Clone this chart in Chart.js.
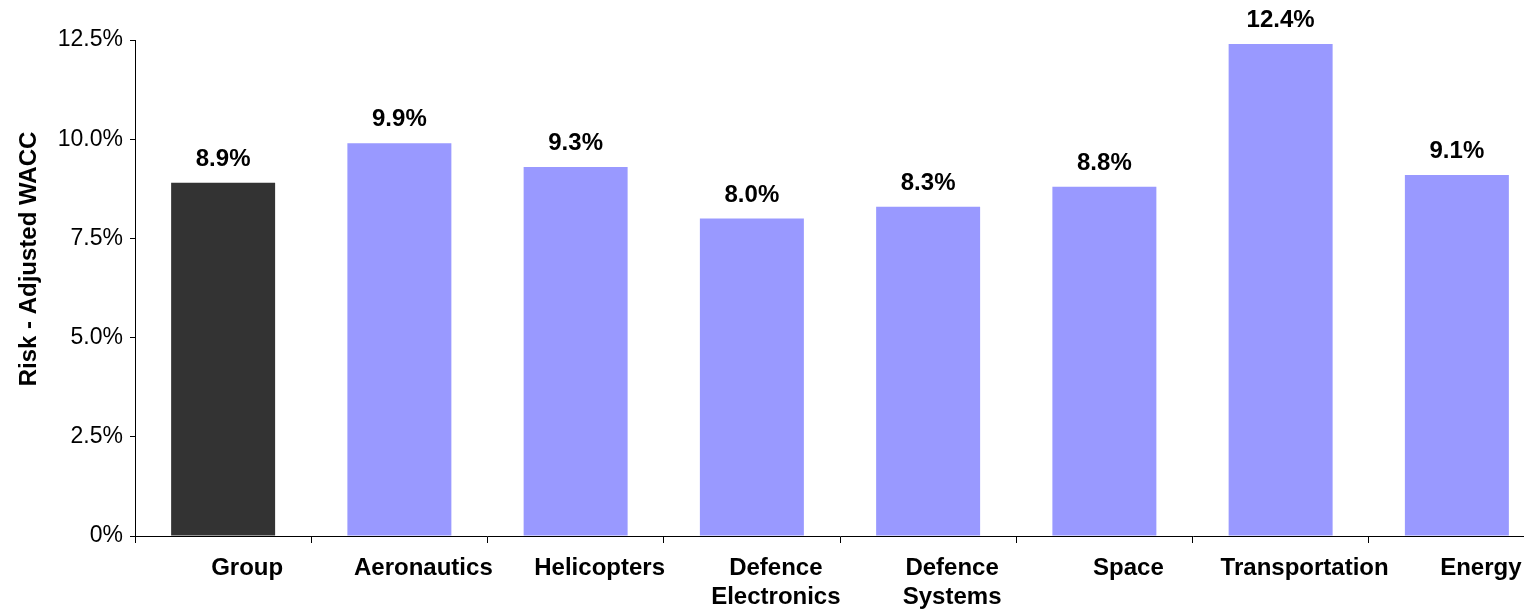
<!DOCTYPE html>
<html>
<head>
<meta charset="utf-8">
<script src="https://cdn.jsdelivr.net/npm/chart.js@4.4.1/dist/chart.umd.min.js"></script>
<style>
  html, body { margin: 0; padding: 0; background: #fff; overflow: hidden; }
  #wrap { width: 1524px; height: 611px; overflow: hidden; }
</style>
</head>
<body>
<div id="wrap"><canvas id="waccChart" width="1545" height="611"></canvas></div>
<script>
const categories = ['Group', 'Aeronautics', 'Helicopters', ['Defence', 'Electronics'], ['Defence', 'Systems'], 'Space', 'Transportation', 'Energy'];
const waccValues = [8.9, 9.9, 9.3, 8.0, 8.3, 8.8, 12.4, 9.1];
const barColors = ['#333333', '#9999ff', '#9999ff', '#9999ff', '#9999ff', '#9999ff', '#9999ff', '#9999ff'];
const yTicks = [0, 2.5, 5, 7.5, 10, 12.5];
const yTitle = 'Risk - Adjusted WACC';

const FONT = "'Liberation Sans', Arial, sans-serif";

// value labels above each bar
const valueLabels = {
  id: 'valueLabels',
  afterDatasetsDraw(chart) {
    const ctx = chart.ctx;
    const meta = chart.getDatasetMeta(0);
    ctx.save();
    ctx.font = `bold 24px ${FONT}`;
    ctx.fillStyle = '#000';
    ctx.textAlign = 'center';
    ctx.textBaseline = 'alphabetic';
    meta.data.forEach((bar, i) => {
      ctx.fillText(`${waccValues[i].toFixed(1)}%`, bar.x, bar.y - 17);
    });
    ctx.restore();
  }
};

// y axis title, sits a bit above the middle of the axis
const axisTitle = {
  id: 'axisTitle',
  afterDraw(chart) {
    const ctx = chart.ctx;
    ctx.save();
    ctx.translate(29, 259);
    ctx.rotate(-Math.PI / 2);
    ctx.font = `bold 24px ${FONT}`;
    ctx.fillStyle = '#000';
    ctx.textAlign = 'center';
    ctx.textBaseline = 'middle';
    ctx.fillText(yTitle, 0, 0);
    ctx.restore();
  }
};

const ctx = document.getElementById('waccChart').getContext('2d');
new Chart(ctx, {
  type: 'bar',
  data: {
    labels: categories,
    datasets: [{
      data: waccValues,
      backgroundColor: barColors,
      borderWidth: 0,
      barPercentage: 0.59,
      categoryPercentage: 1
    }]
  },
  options: {
    responsive: false,
    animation: false,
    layout: { padding: { left: 10, top: 40, right: 0, bottom: 0 } },
    plugins: { legend: { display: false }, tooltip: { enabled: false } },
    scales: {
      x: {
        offset: true,
        grid: { display: true, offset: true, drawOnChartArea: false, drawTicks: true, tickLength: 7, color: '#000' },
        border: { display: true, color: '#000', width: 1 },
        ticks: {
          font: { family: FONT, size: 24, weight: 'bold', lineHeight: 1.2 },
          color: '#000',
          padding: 11,
          labelOffset: 24,
          maxRotation: 0,
          minRotation: 0,
          autoSkip: false
        },
        afterFit(scale) { scale.height = 75; }
      },
      y: {
        min: 0,
        max: 12.5,
        afterBuildTicks(scale) { scale.ticks = yTicks.map(v => ({ value: v })); },
        grid: { display: true, drawOnChartArea: false, drawTicks: true, tickLength: 5, color: '#000' },
        border: { display: true, color: '#000', width: 1 },
        ticks: {
          font: { family: FONT, size: 23 },
          color: '#000',
          padding: 7,
          callback: v => v === 0 ? '0%' : v.toFixed(1) + '%'
        },
        afterFit(scale) { scale.width = 125; }
      }
    }
  },
  plugins: [valueLabels, axisTitle]
});
</script>
</body>
</html>
